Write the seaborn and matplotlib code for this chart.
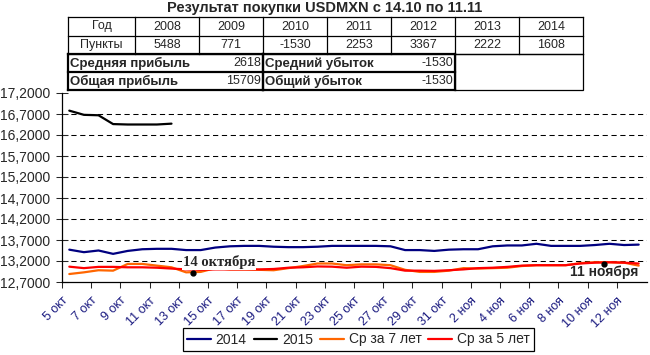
import numpy as np
import pandas as pd
import seaborn as sns
import matplotlib.pyplot as plt
from matplotlib.lines import Line2D
from matplotlib.patches import Rectangle

# ============ Data ============
tick_labels = ['5 окт', '7 окт', '9 окт', '11 окт', '13 окт', '15 окт', '17 окт',
               '19 окт', '21 окт', '23 окт', '25 окт', '27 окт', '29 окт', '31 окт',
               '2 ноя', '4 ноя', '6 ноя', '8 ноя', '10 ноя', '12 ноя']

y2014 = [13.47, 13.41, 13.45, 13.37, 13.44, 13.48, 13.49, 13.49, 13.46, 13.46,
         13.52, 13.55, 13.56, 13.56, 13.54, 13.53, 13.53, 13.54, 13.56, 13.56,
         13.56, 13.56, 13.55, 13.46, 13.46, 13.44, 13.47, 13.48, 13.48, 13.55,
         13.57, 13.57, 13.61, 13.56, 13.56, 13.56, 13.58, 13.61, 13.58, 13.59]
y2015 = [16.78, 16.68, 16.67, 16.46, 16.45, 16.45, 16.45, 16.47]
avg7 = [12.89, 12.93, 12.98, 12.97, 13.13, 13.13, 13.09, 13.05, 12.93, 12.94,
        13.03, 13.00, 13.00, 12.99, 12.98, 13.03, 13.08, 13.14, 13.14, 13.10,
        13.12, 13.12, 13.10, 12.99, 12.94, 12.94, 12.97, 13.03, 13.02, 13.03,
        13.04, 13.08, 13.10, 13.10, 13.10, 13.15, 13.17, 13.17, 13.16, 13.09]
avg5 = [13.065, 13.03, 13.06, 13.06, 13.05, 13.05, 13.04, 13.02, 13.00, 12.99,
        13.00, 13.00, 13.00, 13.00, 13.01, 13.04, 13.05, 13.07, 13.065, 13.04,
        13.065, 13.06, 13.03, 12.97, 12.97, 12.965, 12.98, 13.00, 13.03, 13.04,
        13.06, 13.09, 13.10, 13.10, 13.10, 13.14, 13.16, 13.17, 13.16, 13.14]

series_names = ['2014', '2015', 'Ср за 7 лет', 'Ср за 5 лет']
series_colors = ['#000080', '#000000', '#FF6600', '#FF0000']

y_ticks = [12.7, 13.2, 13.7, 14.2, 14.7, 15.2, 15.7, 16.2, 16.7, 17.2]

# marked dates
mark_x = [8.5, 36.6]
mark_y = [12.92, 13.12]
mark_text = ['14 октября', '11 ноября']

# table
years = ['2008', '2009', '2010', '2011', '2012', '2013', '2014']
points = ['5488', '771', '-1530', '2253', '3367', '2222', '1608']
avg_profit, avg_loss = '2618', '-1530'
total_profit, total_loss = '15709', '-1530'
title = 'Результат покупки USDMXN с 14.10 по 11.11'

# ============ DataFrame ============
frames = []
for name, vals in zip(series_names, [y2014, y2015, avg7, avg5]):
    frames.append(pd.DataFrame({'idx': np.arange(len(vals)), 'value': vals, 'series': name}))
df = pd.concat(frames, ignore_index=True)

# ============ font style ============
sns.set_style('white')
plt.rcParams['font.family'] = ['Liberation Sans', 'DejaVu Sans']

W, H = 650, 355
fig = plt.figure(figsize=(W / 100, H / 100), dpi=100)


def fx(px):
    return px / W


def fy(py):
    return 1 - py / H


ax = fig.add_axes([fx(62), fy(282), (647 - 62) / W, (282 - 93) / H])

sns.lineplot(data=df, x='idx', y='value', hue='series', hue_order=series_names,
             palette=series_colors, linewidth=1.6, errorbar=None, ax=ax)

ax.set_xlim(-0.5, 39.57)
ax.set_ylim(y_ticks[0], y_ticks[-1])
ax.hlines(y_ticks[1:-1], -0.5, 39.57, colors='black', linestyles=(0, (5, 3.5)),
          linewidth=0.75, zorder=0)

ax.set_yticks(y_ticks)
ax.set_yticklabels([f'{v:.4f}'.replace('.', ',') for v in y_ticks], fontsize=10)
ax.set_xticks([2 * k - 0.5 for k in range(len(tick_labels))])
ax.set_xticklabels(tick_labels, rotation=45, ha='right', va='top',
                   rotation_mode='anchor', fontsize=9, color='#1a1a80')
ax.set_xlabel('')
ax.set_ylabel('')
ax.tick_params(axis='y', direction='inout', length=9, width=0.75, pad=4, left=True)
ax.tick_params(axis='x', direction='out', length=4, width=0.75, pad=5, bottom=True)
for s in ['top', 'right']:
    ax.spines[s].set_visible(False)
for s in ['left', 'bottom']:
    ax.spines[s].set_color('black')
    ax.spines[s].set_linewidth(0.9)

# ============ annotations ============
ax.plot(mark_x, mark_y, 'o', color='black', markersize=3.5, zorder=5)
ax.annotate(mark_text[0], (mark_x[0], mark_y[0]), xytext=(18.5, 7.7),
            textcoords='offset points', ha='center', va='center',
            fontsize=10.5, fontweight='bold', family=['Liberation Serif'],
            bbox=dict(facecolor='white', edgecolor='none', pad=0.5), zorder=4)
ax.annotate(mark_text[1], (mark_x[1], mark_y[1]), xytext=(0.4, -5.8),
            textcoords='offset points', ha='center', va='center',
            fontsize=10, fontweight='bold', family=['Liberation Sans', 'DejaVu Sans'])

# ============ legend ============
handles, labels = ax.get_legend_handles_labels()
leg = ax.legend(handles, labels, loc='center', bbox_to_anchor=(fx(358.5), fy(339.5)),
                bbox_transform=fig.transFigure, ncol=4, frameon=True, fancybox=False,
                edgecolor='black', framealpha=1, fontsize=10, handlelength=1.7,
                handletextpad=0.35, columnspacing=0.5, borderpad=0.3)
leg.get_frame().set_linewidth(0.9)
for h in leg.legend_handles:
    h.set_linewidth(1.6)

# ============ title and table ============
fig.text(fx(325), fy(8), title, ha='center', va='center', fontsize=10.5, fontweight='bold')

col_x = [68, 135, 199, 263, 327, 391, 455, 519, 583]
row_y = [17, 36, 54, 72, 90]


def hline(x0, x1, y, lw):
    fig.add_artist(Line2D([fx(x0), fx(x1)], [fy(y), fy(y)], color='black', lw=lw,
                          transform=fig.transFigure, solid_capstyle='projecting'))


def vline(x, y0, y1, lw):
    fig.add_artist(Line2D([fx(x), fx(x)], [fy(y0), fy(y1)], color='black', lw=lw,
                          transform=fig.transFigure, solid_capstyle='projecting'))


# top two rows
for y in row_y[:3]:
    hline(col_x[0], col_x[-1], y, 0.9)
for x in col_x:
    vline(x, row_y[0], row_y[2], 0.9)
row_head = ['Год'] + years
row_pts = ['Пункты'] + points
for i in range(len(col_x) - 1):
    cx = (col_x[i] + col_x[i + 1]) / 2
    fig.text(fx(cx), fy((row_y[0] + row_y[1]) / 2), row_head[i], ha='center', va='center', fontsize=9)
    fig.text(fx(cx), fy((row_y[1] + row_y[2]) / 2), row_pts[i], ha='center', va='center', fontsize=9)

# summary rows
for x0, x1 in [(68, 263), (263, 455)]:
    for y in row_y[2:]:
        hline(x0, x1, y, 1.6)
    vline(x0, row_y[2], row_y[4], 1.6)
    vline(x1, row_y[2], row_y[4], 1.6)
fig.add_artist(Rectangle((fx(455), fy(90)), (583 - 455) / W, (90 - 54) / H, fill=False,
                         edgecolor='black', lw=0.9, transform=fig.transFigure))

summary = [('Средняя прибыль', avg_profit, 'Средний убыток', avg_loss),
           ('Общая прибыль', total_profit, 'Общий убыток', total_loss)]
for r, (l1, v1, l2, v2) in enumerate(summary):
    cy = fy((row_y[2 + r] + row_y[3 + r]) / 2)
    fig.text(fx(70), cy, l1, ha='left', va='center', fontsize=9.5, fontweight='bold')
    fig.text(fx(261), cy, v1, ha='right', va='center', fontsize=9)
    fig.text(fx(265), cy, l2, ha='left', va='center', fontsize=9.5, fontweight='bold')
    fig.text(fx(453), cy, v2, ha='right', va='center', fontsize=9)

fig.savefig('out.png', dpi=100, facecolor='white')
